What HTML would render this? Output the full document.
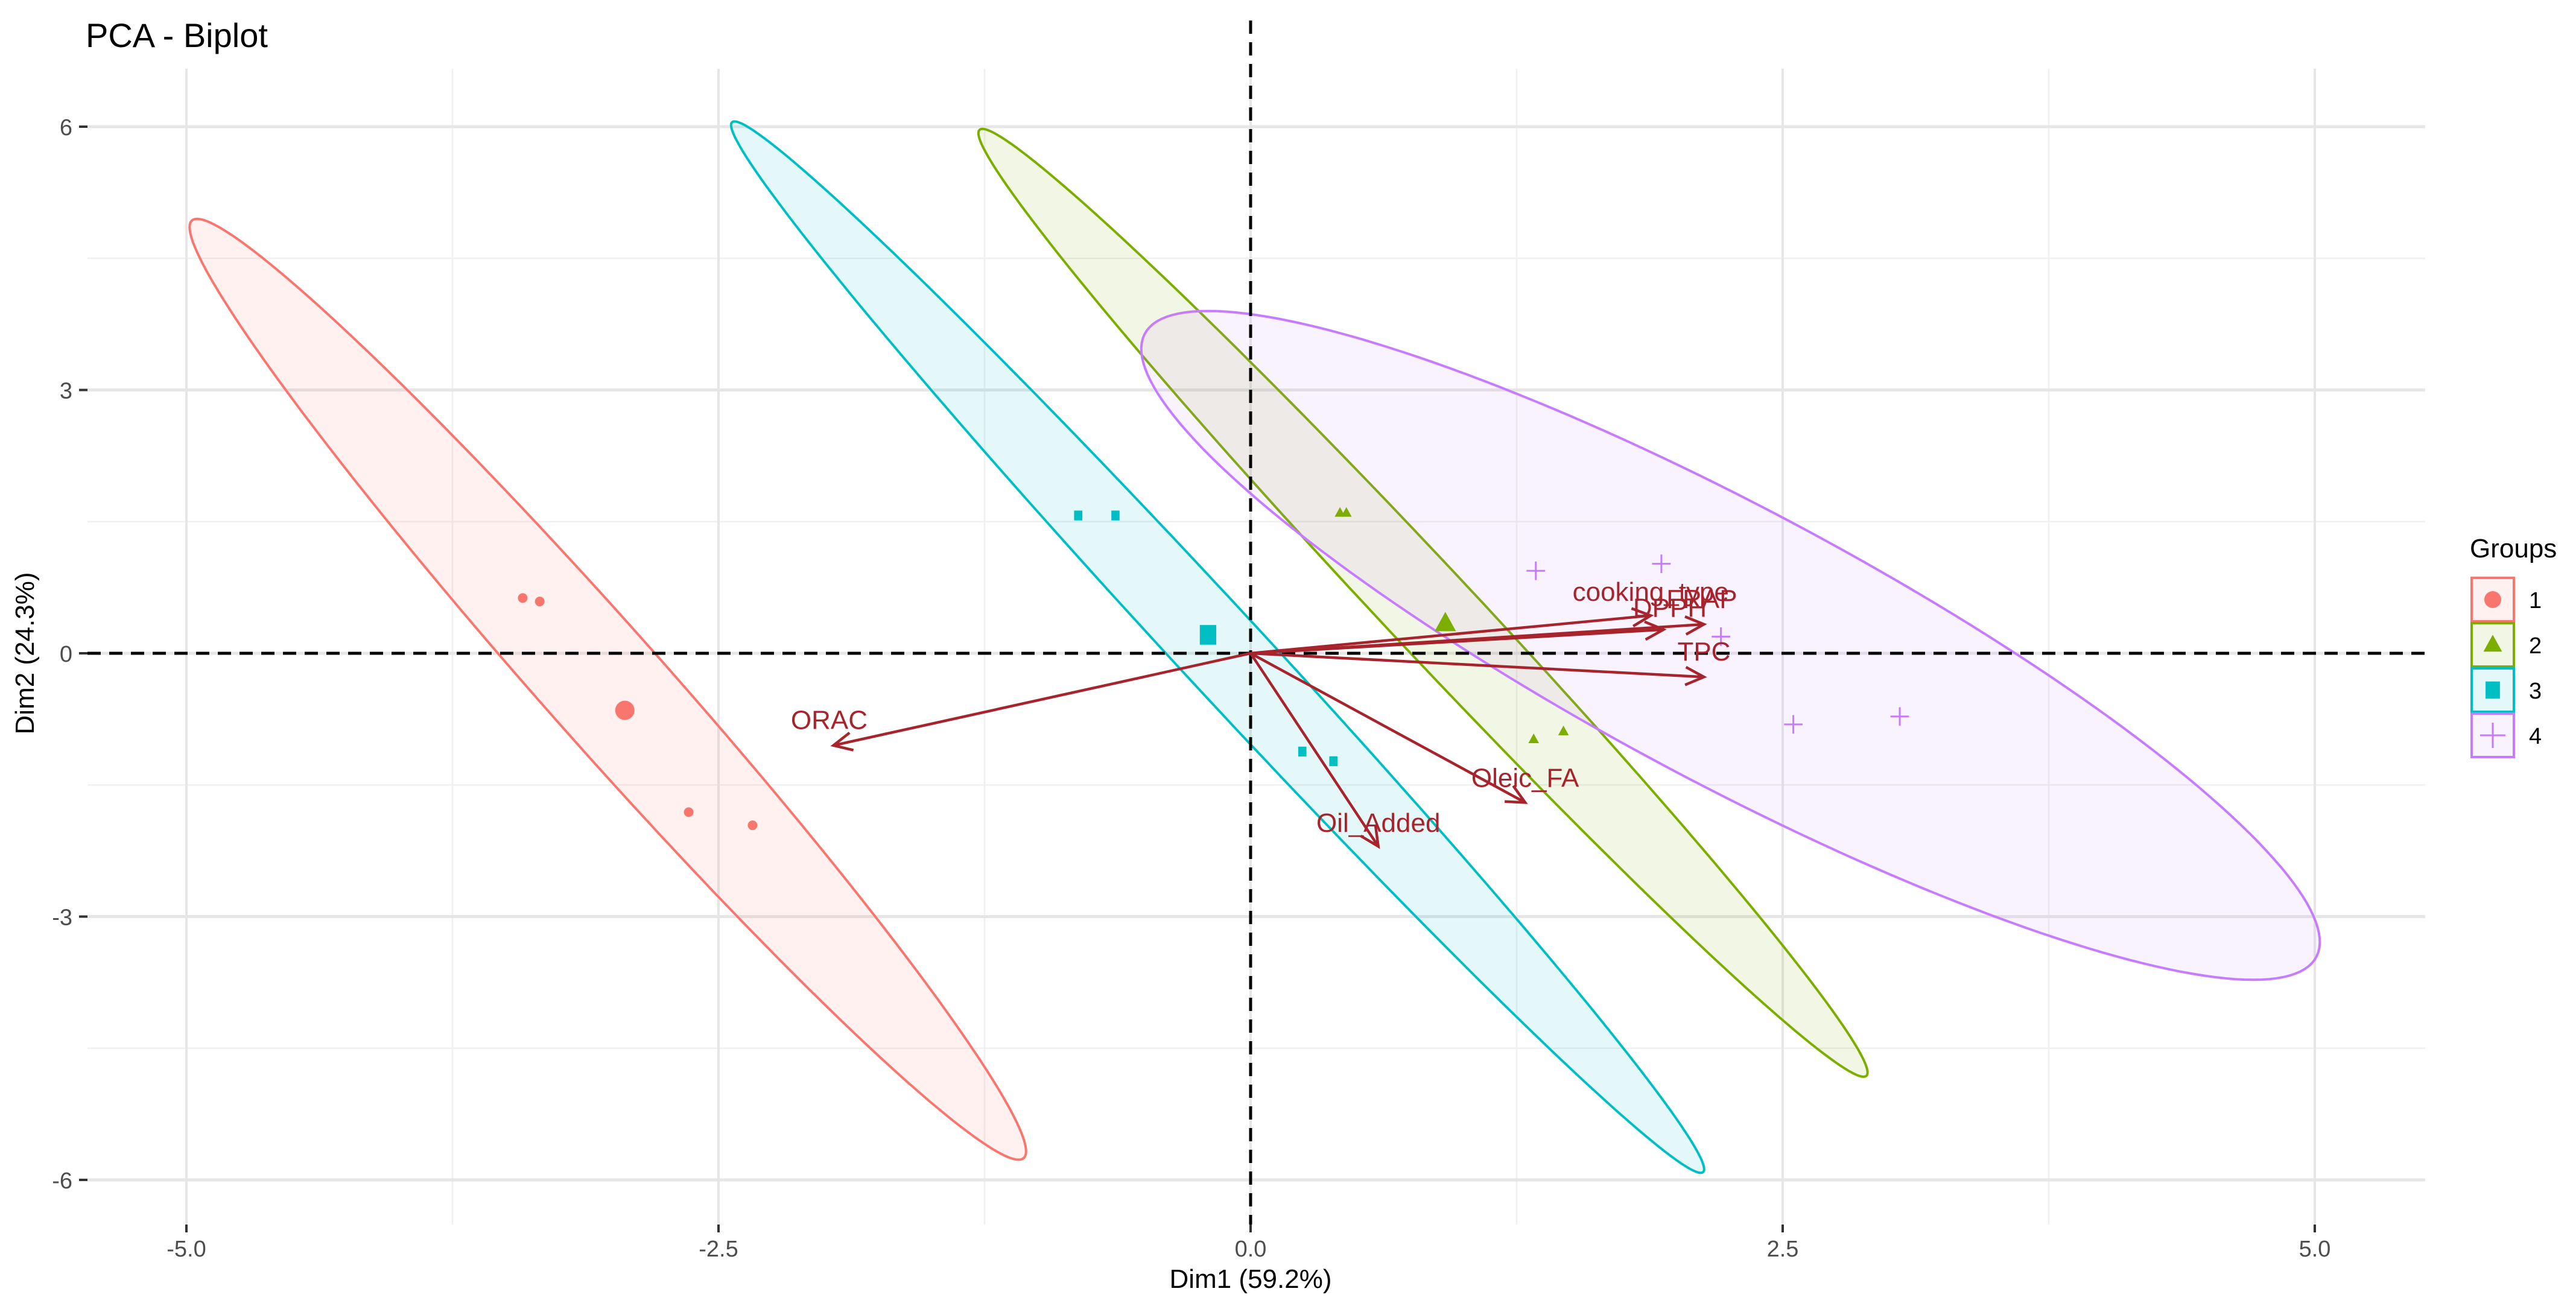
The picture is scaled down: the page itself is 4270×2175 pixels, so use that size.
<!DOCTYPE html>
<html><head><meta charset="utf-8"><style>
html,body{margin:0;padding:0;background:#fff}
svg{display:block;font-family:"Liberation Sans",Arial,sans-serif}
</style></head><body>
<svg id="chart" width="4270" height="2175" viewBox="0 0 4270 2175" xmlns="http://www.w3.org/2000/svg">
<text x="142" y="78" font-size="56" fill="#000">PCA - Biplot</text>
<g id="grid"></g>
<g id="ellipses"></g>
<g id="refs"></g>
<g id="points"></g>
<g id="arrows"></g>
<g id="axes"></g>
<text x="2073" y="2135" font-size="44" text-anchor="middle" fill="#000">Dim1 (59.2%)</text>
<text transform="translate(56,1083) rotate(-90)" font-size="44" text-anchor="middle" fill="#000">Dim2 (24.3%)</text>
<g id="legend"></g>
</svg>
<script>
const xTicks = [-5, -2.5, 0, 2.5, 5];
const xTickLabels = ["-5.0", "-2.5", "0.0", "2.5", "5.0"];
const yTicks = [-6, -3, 0, 3, 6];
const yTickLabels = ["-6", "-3", "0", "3", "6"];
const groups = ["1", "2", "3", "4"];
const colors = ["#F8766D", "#7CAE00", "#00BFC4", "#C77CFF"];
// individuals
const ptX = [-3.42, -3.34, -2.64, -2.34, -0.81, -0.635, 0.243, 0.389, 0.42, 0.45, 1.33, 1.47, 1.34, 1.93, 2.21, 2.55, 3.05];
const ptY = [0.63, 0.59, -1.81, -1.96, 1.57, 1.57, -1.12, -1.23, 1.6, 1.6, -0.98, -0.89, 0.94, 1.02, 0.19, -0.81, -0.72];
const ptGroup = [0, 0, 0, 0, 2, 2, 2, 2, 1, 1, 1, 1, 3, 3, 3, 3, 3];
// group means
const meanX = [-2.94, 0.915, -0.20];
const meanY = [-0.65, 0.34, 0.21];
// ellipses (center, conjugate semi-diameters)
const ellCx = [-3.02, 0.81, -0.155, 2.255];
const ellCy = [-0.41, 0.575, 0.07, 0.09];
const ellUx = [-1.93, -2.07, -2.27, -2.455];
const ellUy = [5.36, 5.40, 5.99, 3.81];
const ellW = [0.37, 0.28, 0.27, 1.28];
// variables
const varNames = ["cooking_type", "DPPH", "FRAP", "TPC", "ORAC", "Oleic_FA", "Oil_Added"];
const varX = [1.88, 1.94, 2.13, 2.13, -1.96, 1.29, 0.60];
const varY = [0.43, 0.27, 0.33, -0.27, -1.05, -1.70, -2.2];
const labX = [1.88, 1.97, 2.12, 2.13, -1.98, 1.29, 0.60];
const labY = [0.70, 0.52, 0.62, 0.02, -0.76, -1.42, -1.93];

const NS = "http://www.w3.org/2000/svg";
const X0 = 2073, XS = 352.8, Y0 = 1083, YS = 145.5;
const L = 145, R = 4020, T = 114, B = 2030;
function sx(v){ return X0 + XS * v; }
function sy(v){ return Y0 - YS * v; }
function mk(tag, attrs, parent){ const e = document.createElementNS(NS, tag); for (const k in attrs) e.setAttribute(k, attrs[k]); parent.appendChild(e); return e; }

const grid = document.getElementById('grid');
const xMinor = [];
for (let i = 0; i < xTicks.length - 1; i++) xMinor.push((xTicks[i] + xTicks[i+1]) / 2);
const yMinor = [];
for (let i = 0; i < yTicks.length - 1; i++) yMinor.push((yTicks[i] + yTicks[i+1]) / 2);
xMinor.forEach(v => { const l = mk('line', {x1: sx(v), x2: sx(v), y1: T, y2: B, stroke: '#f0f0f0', 'stroke-width': 2.5}, grid);
    });
yMinor.forEach(v => { const l = mk('line', {x1: L, x2: R, y1: sy(v), y2: sy(v), stroke: '#f0f0f0', 'stroke-width': 2.5}, grid);
    });
xTicks.forEach(v => { const l = mk('line', {x1: sx(v), x2: sx(v), y1: T, y2: B, stroke: '#e6e6e6', 'stroke-width': 4}, grid);
    });
yTicks.forEach(v => { const l = mk('line', {x1: L, x2: R, y1: sy(v), y2: sy(v), stroke: '#e6e6e6', 'stroke-width': 5}, grid);
    });

const ellG = document.getElementById('ellipses');
for (let g = 0; g < 4; g++) {
  let d = '';
  for (let i = 0; i <= 200; i++) {
    const p = i / 200 * 2 * Math.PI;
    const x = ellCx[g] + ellUx[g] * Math.cos(p) + ellW[g] * Math.sin(p);
    const y = ellCy[g] + ellUy[g] * Math.cos(p);
    d += (i ? 'L' : 'M') + sx(x).toFixed(1) + ',' + sy(y).toFixed(1);
  }
  const e = mk('path', {d: d + 'Z', fill: colors[g], 'fill-opacity': 0.1, stroke: colors[g], 'stroke-width': 4}, ellG);
  
  
}

const refs = document.getElementById('refs');
const hl = mk('line', {x1: L, x2: R, y1: sy(0), y2: sy(0), stroke: '#000', 'stroke-width': 5, 'stroke-dasharray': '22 14'}, refs);


const vl = mk('line', {x1: sx(0), x2: sx(0), y1: T - 80, y2: B, stroke: '#000', 'stroke-width': 5, 'stroke-dasharray': '22 14'}, refs);



function shape(g, cx, cy, s, parent){
  let e;
  if (g === 0) e = mk('circle', {cx, cy, r: s, fill: colors[0]}, parent);
  else if (g === 1) e = mk('polygon', {points: `${cx},${cy - s*1.2} ${cx - s*1.1},${cy + s*0.8} ${cx + s*1.1},${cy + s*0.8}`, fill: colors[1]}, parent);
  else if (g === 2) e = mk('rect', {x: cx - s*0.85, y: cy - s*0.85*1.2, width: s*1.7, height: s*1.7*1.2, fill: colors[2]}, parent);
  else e = mk('path', {d: `M${cx - s*1.4},${cy}H${cx + s*1.4}M${cx},${cy - s*1.4}V${cy + s*1.4}`, stroke: colors[3], 'stroke-width': 3, fill: 'none'}, parent);
  return e;
}
const ptsG = document.getElementById('points');
ptX.forEach((v, i) => { const e = shape(ptGroup[i], sx(v), sy(ptY[i]), ptGroup[i] === 3 ? 11 : 8, ptsG);
    });
meanX.forEach((v, i) => { const e = shape(i, sx(v), sy(meanY[i]), 16, ptsG);
    });

const arG = document.getElementById('arrows');
const AC = '#A8242C';
varNames.forEach((n, i) => {
  const x1 = sx(0), y1 = sy(0), x2 = sx(varX[i]), y2 = sy(varY[i]);
  const a = Math.atan2(y2 - y1, x2 - x1), h = 34, w = 0.45;
  const d = `M${x1},${y1}L${x2},${y2}M${x2 - h*Math.cos(a - w)},${y2 - h*Math.sin(a - w)}L${x2},${y2}L${x2 - h*Math.cos(a + w)},${y2 - h*Math.sin(a + w)}`;
  const p = mk('path', {d, stroke: AC, 'stroke-width': 4.5, fill: 'none', 'stroke-linejoin': 'miter'}, arG);
  
  
  const t = mk('text', {x: sx(labX[i]), y: sy(labY[i]) + 15, 'font-size': 44, fill: AC, 'text-anchor': 'middle'}, arG);
  t.textContent = n;
  
  
});

const ax = document.getElementById('axes');
xTicks.forEach((v, i) => {
  const l = mk('line', {x1: sx(v), x2: sx(v), y1: B, y2: B + 13, stroke: '#333', 'stroke-width': 4}, ax);
   
  const t = mk('text', {x: sx(v), y: 2083, 'font-size': 38, fill: '#4d4d4d', 'text-anchor': 'middle'}, ax);
  t.textContent = xTickLabels[i];
   
});
yTicks.forEach((v, i) => {
  const l = mk('line', {x1: 131, x2: 145, y1: sy(v), y2: sy(v), stroke: '#333', 'stroke-width': 4}, ax);
   
  const t = mk('text', {x: 120, y: sy(v) + 14, 'font-size': 38, fill: '#4d4d4d', 'text-anchor': 'end'}, ax);
  t.textContent = yTickLabels[i];
   
});

const lg = document.getElementById('legend');
const lt = mk('text', {x: 4094, y: 924, 'font-size': 44, fill: '#000'}, lg);
lt.textContent = 'Groups';
 
groups.forEach((g, i) => {
  const y = 958 + i * 75;
  const r = mk('rect', {x: 4097, y: y, width: 70, height: 72, fill: colors[i], 'fill-opacity': 0.1, stroke: colors[i], 'stroke-width': 4}, lg);
   
  const s = shape(i, 4132, y + 36, i === 3 ? 15 : 14, lg);
   
  const t = mk('text', {x: 4192, y: y + 50, 'font-size': 38, fill: '#000'}, lg);
  t.textContent = g;
   
});
</script>
</body></html>
